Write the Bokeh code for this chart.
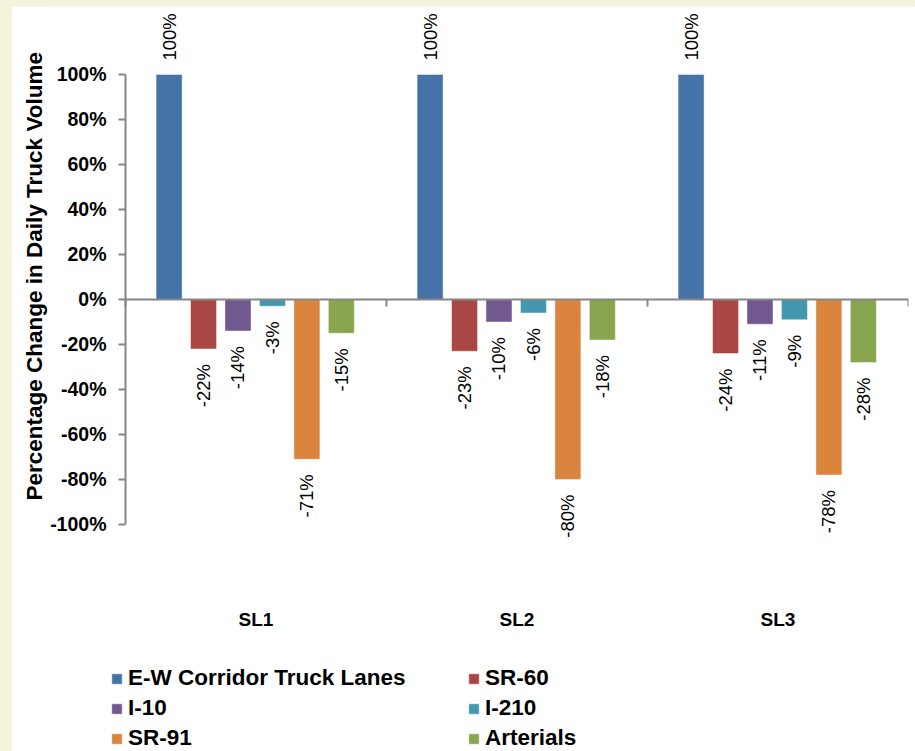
import math
from bokeh.plotting import figure
from bokeh.models import (ColumnDataSource, LinearAxis, FixedTicker, NumeralTickFormatter,
                          Range1d, Legend, LegendItem, Column, Title)
from bokeh.core.properties import value
from bokeh.embed import file_html
from bokeh.resources import INLINE

# ---------------- data ----------------
scenarios = ["SL1", "SL2", "SL3"]
series_names = ["E-W Corridor Truck Lanes", "SR-60", "I-10", "I-210", "SR-91", "Arterials"]
ew_lanes = [100, 100, 100]
sr60 = [-22, -23, -24]
i10 = [-14, -10, -11]
i210 = [-3, -6, -9]
sr91 = [-71, -80, -78]
arterials = [-15, -18, -28]
y_ticks = [-1.0, -0.8, -0.6, -0.4, -0.2, 0.0, 0.2, 0.4, 0.6, 0.8, 1.0]

series_values = [ew_lanes, sr60, i10, i210, sr91, arterials]
colors = ["#4572A7", "#AA4643", "#71588F", "#4198AF", "#DB843D", "#89A54E"]

FONT = "Liberation Sans"
GRAY = "#868686"

p = figure(width=904, height=745, output_backend="svg", toolbar_location=None,
           x_axis_type=None, y_axis_type=None,
           x_range=Range1d(-0.3027, 3.0), y_range=Range1d(-2.0089, 1.3022),
           min_border_left=35, min_border_right=7, min_border_top=0, min_border_bottom=0)
p.outline_line_color = None
p.xgrid.visible = False
p.ygrid.visible = False
p.background_fill_color = "white"
p.border_fill_color = "white"
p.margin = (6, 0, 0, 11)

# ---------------- bars ----------------
n = len(series_names)
pitch = 0.132
bar_w = 0.0996
renderers = []
lab_x, lab_y, lab_t, lab_a, lab_off = [], [], [], [], []
for i, (name, vals, col) in enumerate(zip(series_names, series_values, colors)):
    xs = [k + 0.497 + (i - (n - 1) / 2) * pitch for k in range(len(scenarios))]
    ys = [v / 100 for v in vals]
    src = ColumnDataSource(dict(x=xs, top=ys))
    r = p.vbar(x="x", top="top", bottom=0, width=bar_w, source=src,
               fill_color=col, line_color="white", line_alpha=0.45, line_width=1)
    renderers.append(r)
    for xv, yv, v in zip(xs, ys, vals):
        lab_x.append(xv)
        lab_y.append(yv)
        lab_t.append(f"{v}%")
        lab_a.append("left" if v >= 0 else "right")
        lab_off.append(-14 if v >= 0 else 15)

lsrc = ColumnDataSource(dict(x=lab_x, y=lab_y, text=lab_t, align=lab_a, off=lab_off))
p.text(x="x", y="y", text="text", source=lsrc, angle=math.pi / 2,
       text_align="align", text_baseline="middle", y_offset="off",
       text_font=value(FONT), text_font_size="18.5px", text_color="black")

# ---------------- axes ----------------
yaxis = LinearAxis(ticker=FixedTicker(ticks=y_ticks),
                   formatter=NumeralTickFormatter(format="0%"),
                   bounds=(-1, 1))
yaxis.fixed_location = 0
yaxis.axis_line_color = GRAY
yaxis.axis_line_width = 2
yaxis.major_tick_line_color = GRAY
yaxis.major_tick_line_width = 2
yaxis.major_tick_out = 7
yaxis.major_tick_in = 0
yaxis.minor_tick_line_color = None
yaxis.major_label_standoff = 12
yaxis.major_label_text_font = FONT
yaxis.major_label_text_font_style = "bold"
yaxis.major_label_text_font_size = "19.5px"
yaxis.major_label_text_color = "black"
p.add_layout(yaxis, "left")

ytitle = Title(text="Percentage Change in Daily Truck Volume", align="left",
               offset=251, standoff=0,
               text_font=FONT, text_font_style="bold", text_font_size="22.5px",
               text_color="black")
p.add_layout(ytitle, "left")

# zero line with category boundary ticks
zaxis = LinearAxis(ticker=FixedTicker(ticks=list(range(len(scenarios) + 1))),
                   bounds=(0, len(scenarios)))
zaxis.fixed_location = 0
zaxis.axis_line_color = GRAY
zaxis.axis_line_width = 2
zaxis.major_tick_line_color = GRAY
zaxis.major_tick_line_width = 2
zaxis.major_tick_out = 7
zaxis.major_tick_in = 0
zaxis.minor_tick_line_color = None
zaxis.major_label_text_color = None
zaxis.major_label_text_font_size = "1px"
p.add_layout(zaxis, "below")

# category labels
caxis = LinearAxis(ticker=FixedTicker(ticks=[k + 0.5 for k in range(len(scenarios))]),
                   major_label_overrides={k + 0.5: s for k, s in enumerate(scenarios)})
caxis.fixed_location = -1.338
caxis.axis_line_color = None
caxis.major_tick_line_color = None
caxis.minor_tick_line_color = None
caxis.major_label_standoff = 2
caxis.major_label_text_font = FONT
caxis.major_label_text_font_style = "bold"
caxis.major_label_text_font_size = "19px"
caxis.major_label_text_color = "black"
p.add_layout(caxis, "below")

# ---------------- legends ----------------
def make_legend(idx, loc):
    lg = Legend(items=[LegendItem(label=series_names[j], renderers=[renderers[j]]) for j in idx],
                location=loc, orientation="vertical",
                glyph_width=13, glyph_height=13, label_standoff=5,
                label_height=25, spacing=4, padding=0, margin=0,
                label_text_font=FONT, label_text_font_style="bold",
                label_text_font_size="22.5px", label_text_color="black",
                border_line_color=None, background_fill_alpha=0)
    p.add_layout(lg, "center")

make_legend([0, 2, 4], (64, 0))
make_legend([1, 3, 5], (421, 0))

layout = Column(children=[p], width=915, height=751,
                styles={"background-color": "#F5F3DC"})
open("out.html", "w").write(file_html(layout, INLINE))
